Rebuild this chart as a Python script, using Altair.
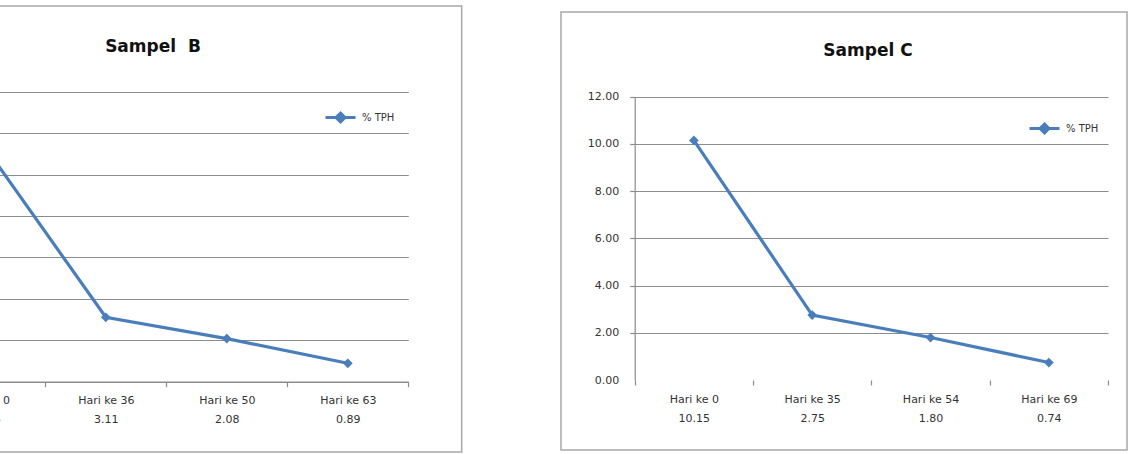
import altair as alt
import pandas as pd

# ---- data ----
titles = ["Sampel\u00a0\u00a0B", "Sampel C"]
series_name = "% TPH"

days_B = ["Hari ke 0", "Hari ke 36", "Hari ke 50", "Hari ke 63"]
tph_B = [11.35, 3.11, 2.08, 0.89]

days_C = ["Hari ke 0", "Hari ke 35", "Hari ke 54", "Hari ke 69"]
tph_C = [10.15, 2.75, 1.80, 0.74]

yticks_B = [0, 2, 4, 6, 8, 10, 12, 14]
yticks_C = [0, 2, 4, 6, 8, 10, 12]

BLUE = "#4A7EBB"
GRID = "#8C8C8C"
BORDER = "#A8A8A8"
FONT = "DejaVu Sans"
LABEL_COLOR = "#333333"

df_B = pd.DataFrame({
    "cat": [f"{d}|{v:.2f}" for d, v in zip(days_B, tph_B)],
    "tph": tph_B,
    "series": [series_name] * len(tph_B),
})
df_C = pd.DataFrame({
    "cat": [f"{d}|{v:.2f}" for d, v in zip(days_C, tph_C)],
    "tph": tph_C,
    "series": [series_name] * len(tph_C),
})

W, H = 1131, 454
legend_path = "M-1,0L1,0M0,-0.3L0.3,0L0,0.3L-0.3,0Z"


def panel(df, xrange, yrange, ydomain, yticks, xaxis_offset, yaxis, legend_xy, show_xdomain):
    return alt.Chart(df).mark_line(
        strokeWidth=3.2,
        point=alt.OverlayMarkDef(shape="diamond", size=95, filled=True, color=BLUE),
    ).encode(
        x=alt.X(
            "cat:N", sort=None, bandPosition=0.5,
            scale=alt.Scale(type="band", paddingInner=0, paddingOuter=0, range=xrange),
            axis=alt.Axis(
                orient="bottom", offset=xaxis_offset, title=None, tickBand="extent",
                labelExpr="split(datum.label, '|')", labelAngle=0,
                labelLineHeight=19, labelFont=FONT, labelFontSize=11,
                labelColor=LABEL_COLOR, labelPadding=8, labelBaseline="top",
                tickSize=5, tickColor=GRID, tickWidth=1.2,
                domain=show_xdomain, domainColor=GRID, domainWidth=1.2,
                grid=False, labelOverlap=False,
            ),
        ),
        y=alt.Y(
            "tph:Q",
            scale=alt.Scale(domain=ydomain, range=yrange, nice=False, zero=True),
            axis=yaxis,
        ),
        color=alt.Color(
            "series:N",
            scale=alt.Scale(domain=[series_name], range=[BLUE]),
            legend=alt.Legend(
                orient="none", legendX=legend_xy[0], legendY=legend_xy[1],
                title=None, padding=0, symbolType=legend_path, symbolSize=900,
                symbolStrokeWidth=3, symbolStrokeColor=BLUE, symbolFillColor=BLUE,
                labelFont=FONT, labelFontSize=10, labelColor=LABEL_COLOR, labelOffset=5,
            ),
        ),
    )


yaxis_B = alt.Axis(
    orient="left", offset=0, title=None, values=yticks_B,
    labels=False, ticks=False, domain=False,
    grid=True, gridColor=GRID, gridWidth=1.2,
)
yaxis_C = alt.Axis(
    orient="left", offset=-634.7, title=None, values=yticks_C, format=".2f",
    labelFont=FONT, labelFontSize=11, labelColor=LABEL_COLOR, labelPadding=11,
    tickSize=5, tickColor=GRID, tickWidth=1.2,
    tickOpacity={"condition": {"test": "datum.value == 0", "value": 0}, "value": 1},
    domain=True, domainColor=GRID, domainWidth=1.2,
    grid=True, gridColor=GRID, gridWidth=1.2,
    gridOpacity={"condition": {"test": "datum.value == 0", "value": 0}, "value": 1},
)

panel_B = panel(df_B, [-75.7, 408.3], [381.7, 91.7], [0, 14], yticks_B,
                381.7 - H, yaxis_B, (324, 101), True)
panel_C = panel(df_C, [634.7, 1108], [380, 96.7], [0, 12], yticks_C,
                380 - H, yaxis_C, (1028, 112), False)

one = pd.DataFrame({"k": [0]})
border_B = alt.Chart(one).mark_rect(fillOpacity=0, stroke=BORDER, strokeWidth=1.5).encode(
    x=alt.value(-10), x2=alt.value(461.7), y=alt.value(6), y2=alt.value(452))
border_C = alt.Chart(one).mark_rect(fillOpacity=0, stroke=BORDER, strokeWidth=1.5).encode(
    x=alt.value(561), x2=alt.value(1127), y=alt.value(12), y2=alt.value(450))

title_B = alt.Chart(pd.DataFrame({"t": [titles[0]]})).mark_text(
    font=FONT, fontWeight="bold", fontSize=17, align="center", baseline="alphabetic", color="#111111"
).encode(x=alt.value(153), y=alt.value(52), text="t:N")
title_C = alt.Chart(pd.DataFrame({"t": [titles[1]]})).mark_text(
    font=FONT, fontWeight="bold", fontSize=17, align="center", baseline="alphabetic", color="#111111"
).encode(x=alt.value(868), y=alt.value(56), text="t:N")

chart = alt.layer(
    border_B, border_C, panel_B, panel_C, title_B, title_C
).resolve_scale(
    x="independent", y="independent", color="independent"
).resolve_axis(
    x="independent", y="independent"
).resolve_legend(
    color="independent"
).properties(
    width=W, height=H, padding=0,
    autosize=alt.AutoSizeParams(type="none"),
    background="white",
).configure_view(strokeWidth=0)

chart.save("out.html", embed_options={"renderer": "svg", "actions": False})
